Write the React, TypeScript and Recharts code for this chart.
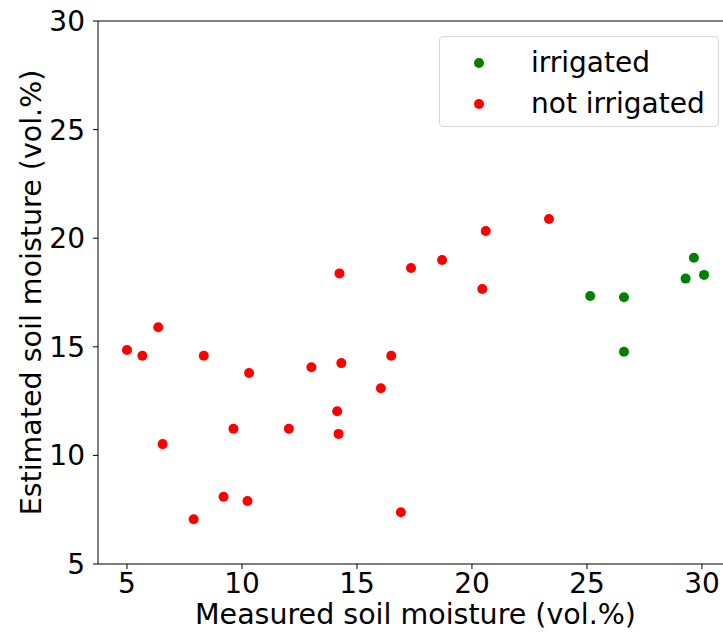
import {
  Legend,
  ReferenceLine,
  Scatter,
  ScatterChart,
  XAxis,
  YAxis,
} from 'recharts';

// measured vs. estimated soil moisture, vol.%
const irrigatedMeasured = [25.14, 26.61, 26.61, 29.29, 29.65, 30.09];
const irrigatedEstimated = [17.34, 17.28, 14.77, 18.14, 19.1, 18.31];

const dryMeasured = [
  5.0, 5.67, 6.36, 6.55, 7.9, 8.34, 9.2, 9.63, 10.24, 10.31, 12.04, 13.02,
  14.14, 14.2, 14.32, 14.24, 16.04, 16.49, 16.91, 17.35, 18.7, 20.45, 20.6,
  23.35,
];
const dryEstimated = [
  14.85, 14.59, 15.9, 10.52, 7.06, 14.59, 8.1, 11.23, 7.9, 13.79, 11.23,
  14.06, 12.03, 10.99, 14.25, 18.38, 13.09, 14.59, 7.38, 18.63, 19.0, 17.66,
  20.33, 20.88,
];

const xTicks = [5, 10, 15, 20, 25, 30];
const yTicks = [5, 10, 15, 20, 25, 30];
const xDomain = [3.74, 31.35];
const yDomain = [5, 30];

const seriesNames = ['irrigated', 'not irrigated'];
const seriesColors = ['#008000', '#ff0000'];

const FONT = '"DejaVu Sans", sans-serif';
const FONT_SIZE = 28;
const LABEL_SIZE = 28.5;

const toPoints = (xs: number[], ys: number[]) =>
  xs.map((x, i) => ({ x, y: ys[i] }));

const dot = (color: string) => (props: any) =>
  <circle cx={props.cx} cy={props.cy} r={5} fill={color} />;

function LegendBox() {
  return (
    <div
      style={{
        width: 280,
        height: 91,
        boxSizing: 'border-box',
        border: '1px solid #d6d6d6',
        borderRadius: 4,
        background: 'rgba(255,255,255,0.8)',
        fontFamily: FONT,
        fontSize: FONT_SIZE,
        color: '#000',
        position: 'relative',
      }}
    >
      {seriesNames.map((name, i) => (
        <div
          key={name}
          style={{
            position: 'absolute',
            left: 0,
            top: 9 + i * 41,
            height: 34,
            display: 'flex',
            alignItems: 'center',
          }}
        >
          <svg width={91} height={34} style={{ display: 'block' }}>
            <circle cx={39} cy={17} r={5} fill={seriesColors[i]} />
          </svg>
          <span style={{ lineHeight: '34px' }}>{name}</span>
        </div>
      ))}
    </div>
  );
}

export default function App() {
  return (
    <div
      style={{
        position: 'absolute',
        left: 0,
        top: 0,
        width: 723,
        height: 632,
        overflow: 'hidden',
        background: '#fff',
      }}
    >
      <ScatterChart
        width={733}
        height={632}
        margin={{ top: 21, right: 0, bottom: 0, left: 0 }}
        style={{ fontFamily: FONT }}
      >
        <XAxis
          type="number"
          dataKey="x"
          domain={xDomain}
          ticks={xTicks}
          allowDataOverflow
          height={68}
          stroke="#000"
          tickSize={5}
          tickMargin={4}
          tick={{ fill: '#000', fontSize: FONT_SIZE }}
          label={({ viewBox }: any) => (
            <text
              x={viewBox.x + viewBox.width / 2}
              y={624}
              textAnchor="middle"
              fontSize={LABEL_SIZE}
              fill="#000"
            >
              Measured soil moisture (vol.%)
            </text>
          )}
        />
        <YAxis
          type="number"
          dataKey="y"
          domain={yDomain}
          ticks={yTicks}
          allowDataOverflow
          width={98}
          stroke="#000"
          tickSize={5}
          tickMargin={8}
          tick={{ fill: '#000', fontSize: FONT_SIZE }}
          label={({ viewBox }: any) => {
            const cy = viewBox.y + viewBox.height / 2;
            return (
              <text
                x={41}
                y={cy}
                transform={`rotate(-90, 41, ${cy})`}
                textAnchor="middle"
                fontSize={LABEL_SIZE}
                fill="#000"
              >
                Estimated soil moisture (vol.%)
              </text>
            );
          }}
        />
        <ReferenceLine y={30} stroke="#000" />
        <ReferenceLine x={31.35} stroke="#000" />
        <Scatter
          name={seriesNames[0]}
          data={toPoints(irrigatedMeasured, irrigatedEstimated)}
          fill={seriesColors[0]}
          shape={dot(seriesColors[0])}
          isAnimationActive={false}
        />
        <Scatter
          name={seriesNames[1]}
          data={toPoints(dryMeasured, dryEstimated)}
          fill={seriesColors[1]}
          shape={dot(seriesColors[1])}
          isAnimationActive={false}
        />
        <Legend
          layout="vertical"
          align="center"
          verticalAlign="middle"
          wrapperStyle={{ left: 439, top: 36, width: 280, height: 91 }}
          content={() => <LegendBox />}
        />
      </ScatterChart>
    </div>
  );
}
